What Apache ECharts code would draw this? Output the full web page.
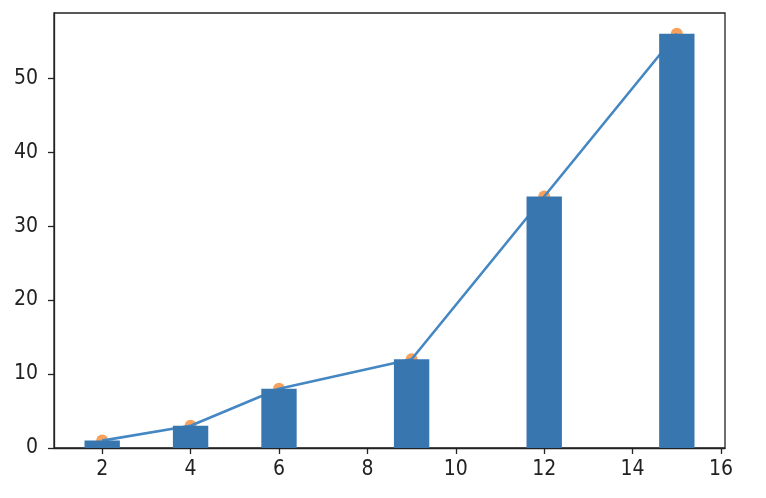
<!DOCTYPE html>
<html>
<head>
<meta charset="utf-8">
<script src="https://cdn.jsdelivr.net/npm/echarts@6/dist/echarts.min.js"></script>
<style>html,body{margin:0;padding:0;background:#fff}#c{width:766px;height:498px}</style>
</head>
<body>
<div id="c"></div>
<script>
var xValues = [2, 4, 6, 9, 12, 15];
var yValues = [1, 3, 8, 12, 34, 56];
var xTicks = [2, 4, 6, 8, 10, 12, 14, 16];
var yTicks = [0, 10, 20, 30, 40, 50];
var barWidthUnits = 0.8;

var pairs = xValues.map(function (x, i) { return [x, yValues[i]]; });
var chart = echarts.init(document.getElementById('c'));
var fontFam = '"DejaVu Sans Condensed", "Liberation Sans", sans-serif';
chart.setOption({
  animation: false,
  grid: { left: 54, right: 41, top: 13, bottom: 50, show: true, borderColor: '#222', borderWidth: 1.3, backgroundColor: 'transparent' },
  xAxis: {
    type: 'value', min: 0.91, max: 16.09,
    splitLine: { show: false },
    axisLine: { show: true, onZero: false, lineStyle: { color: '#222', width: 1.3 } },
    axisTick: { show: true, length: 6, customValues: xTicks, lineStyle: { color: '#222', width: 1.3 } },
    axisLabel: { customValues: xTicks, margin: 11, color: '#222', fontSize: 21, fontFamily: fontFam }
  },
  yAxis: {
    type: 'value', min: 0, max: 58.8,
    splitLine: { show: false },
    axisLine: { show: true, lineStyle: { color: '#222', width: 1.3 } },
    axisTick: { show: true, length: 6, customValues: yTicks, lineStyle: { color: '#222', width: 1.3 } },
    axisLabel: { customValues: yTicks, margin: 16, color: '#222', fontSize: 21, fontFamily: fontFam }
  },
  series: [
    {
      type: 'scatter', data: pairs, z: 1, symbolSize: 12,
      itemStyle: { color: '#f58a35' }
    },
    {
      type: 'line', data: pairs, z: 2, symbol: 'none',
      lineStyle: { color: '#4487c2', width: 2.6 }
    },
    {
      type: 'custom', data: pairs, z: 3,
      renderItem: function (params, api) {
        var x = api.value(0), y = api.value(1);
        var p0 = api.coord([x - barWidthUnits / 2, y]);
        var p1 = api.coord([x + barWidthUnits / 2, 0]);
        return {
          type: 'rect',
          shape: { x: p0[0], y: p0[1], width: p1[0] - p0[0], height: p1[1] - p0[1] },
          style: { fill: '#3876b0' }
        };
      }
    }
  ]
});
</script>
</body>
</html>
